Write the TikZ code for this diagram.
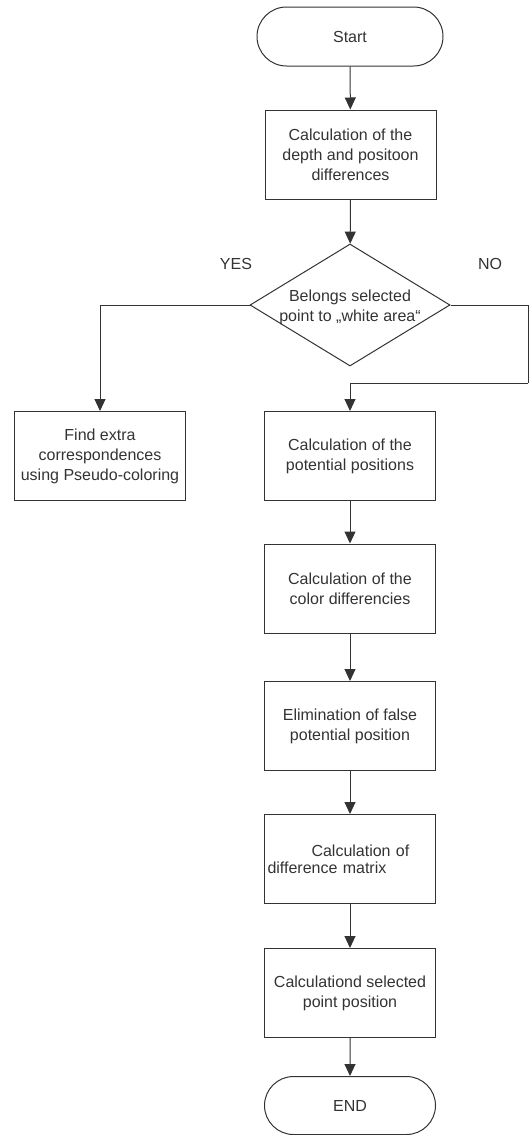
\documentclass[tikz,border=0pt]{standalone}
\usepackage{fontspec}
\setmainfont{Liberation Sans}
\usetikzlibrary{arrows.meta,shapes.geometric,shapes.misc}
\begin{document}
\begin{tikzpicture}[
	x=0.5pt, y=-0.5pt,
	font=\fontsize{8pt}{10pt}\selectfont,
	every node/.style={text=black!80},
	arr/.style={draw=black!80, line width=0.5pt, -{Triangle[length=6pt,width=5.5pt]}},
	link/.style={draw=black!80, line width=0.5pt},
	box/.style={rectangle, draw=black!80, line width=0.5pt, minimum width=85.5pt, minimum height=44.5pt, align=center, inner sep=1.5pt},
	terminal/.style={rounded rectangle, draw=black!80, line width=0.5pt, minimum height=29.5pt, inner sep=0pt},
	decision/.style={diamond, draw=black!80, line width=0.5pt, minimum width=100pt, minimum height=61pt, inner sep=0pt}
]
\useasboundingbox (0,0) rectangle (530,1135);
\node[terminal, minimum width=93pt] (start) at (350,36.5) {Start};
\node[box] (diff) at (350.5,154.5) {Calculation of the\\depth and positoon\\differences};
\node[decision, label={[align=center, yshift=-1pt]center:Belongs selected\\point to „white area“}] (belongs) at (350,305) {};
\node (yes) at (236,264) {YES};
\node (no) at (490,264) {NO};
\node[box] (extra) at (100,456) {Find extra\\correspondences\\using Pseudo-coloring};
\node[box] (potential) at (350,456) {Calculation of the\\potential positions};
\node[box] (color) at (350,588.5) {Calculation of the\\color differencies};
\node[box] (elim) at (350,726) {Elimination of false\\potential position};
\node[box, text width=82.5pt, align=left] (matrix) at (350,859) {\hspace*{22pt}Calculation of\\[-1.5pt]difference matrix};
\node[box] (selected) at (350,993) {Calculationd selected\\point position};
\node[terminal, minimum width=85.5pt, minimum height=29pt] (end) at (350,1105.5) {END};
\coordinate (noR) at (528,305);
\coordinate (noB) at (528,383);
\draw[arr] (start) -- (diff);
\draw[arr] (diff) -- (belongs);
\draw[arr] (belongs.west) -| (extra.north);
\draw[link] (belongs.east) -- (noR) -- (noB);
\draw[arr] (noB) -| (potential.north);
\draw[arr] (potential) -- (color);
\draw[arr] (color) -- (elim);
\draw[arr] (elim) -- (matrix);
\draw[arr] (matrix) -- (selected);
\draw[arr] (selected) -- (end);
\end{tikzpicture}
\end{document}
